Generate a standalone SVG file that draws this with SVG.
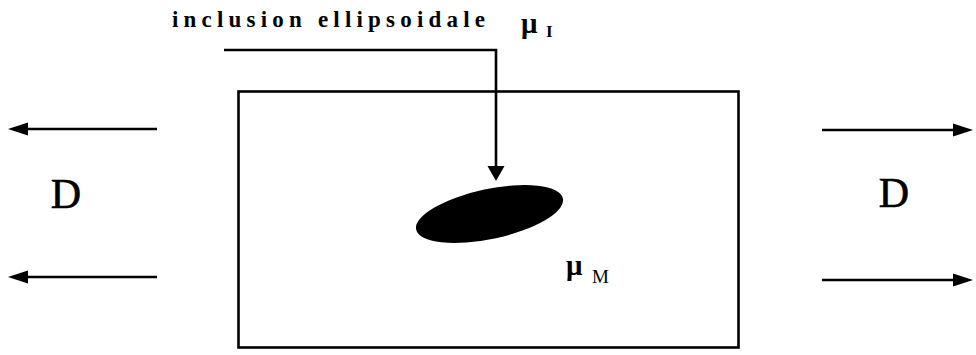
<svg xmlns="http://www.w3.org/2000/svg" width="976" height="355" viewBox="0 0 976 355">
<style>
.ln{stroke:#000;stroke-width:2.6;fill:none}
.hd{fill:#000;stroke:none}
.tm{font-family:"Liberation Serif","Times New Roman",serif;fill:#000}
</style>
<rect width="976" height="355" fill="#fff"/>
<g id="matrix">
<rect x="238.5" y="91.5" width="500" height="256" class="ln"/>
</g>
<g id="inclusion">
<ellipse cx="489.5" cy="214" rx="75" ry="25" transform="rotate(-12 489.5 214)" fill="#000"/>
</g>
<g id="labels">
<text class="tm" x="172" y="27" font-size="23" font-weight="bold" textLength="313" lengthAdjust="spacing">inclusion ellipsoidale</text>
<text class="tm" x="521" y="33" font-size="29" font-weight="bold">μ</text>
<text class="tm" x="546" y="37" font-size="17" font-weight="bold">I</text>
<text class="tm" x="566" y="275" font-size="29" font-weight="bold">μ</text>
<text class="tm" x="592" y="283" font-size="19">M</text>
<text class="tm" x="66" y="208" font-size="42" text-anchor="middle" stroke="#000" stroke-width="0.6">D</text>
<text class="tm" x="894" y="207" font-size="42" text-anchor="middle" stroke="#000" stroke-width="0.6">D</text>
</g>
<g id="connectors">
<path class="ln" d="M224 50 H496 V167"/>
<path class="hd" d="M487.5 166 H504.5 L496 181 Z"/>
<path class="ln" d="M157 129 H26"/>
<path class="hd" d="M8 129 L28 122.5 V135.5 Z"/>
<path class="ln" d="M157 277 H26"/>
<path class="hd" d="M8 277 L28 270.5 V283.5 Z"/>
<path class="ln" d="M822 130 H955"/>
<path class="hd" d="M973 130 L953 123.5 V136.5 Z"/>
<path class="ln" d="M822 280 H955"/>
<path class="hd" d="M973 280 L953 273.5 V286.5 Z"/>
</g>
</svg>
